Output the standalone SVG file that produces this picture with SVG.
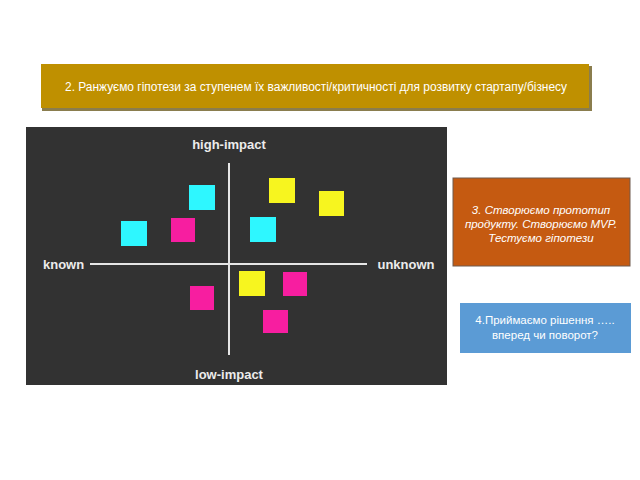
<svg xmlns="http://www.w3.org/2000/svg" width="640" height="480" viewBox="0 0 640 480">
<style>
.t{font-family:"Liberation Sans",Arial,sans-serif;fill:#ffffff}
.ax{font-family:"Liberation Sans",Arial,sans-serif;font-weight:bold;fill:#ececec;font-size:13px}
.cy{fill:#2ef7ff}.mg{fill:#f71ea0}.ye{fill:#f7f51f}
</style>
<rect width="640" height="480" fill="#ffffff"/>
<g id="banner">
<rect x="42" y="66" width="550" height="45" fill="#8a7d4e"/>
<rect x="41" y="64" width="548" height="44" fill="#bf9000"/>
<text class="t" x="316" y="91" font-size="12" text-anchor="middle" fill="#fff8e0" textLength="502" lengthAdjust="spacingAndGlyphs">2. Ранжуємо гіпотези за ступенем їх важливості/критичності для розвитку стартапу/бізнесу</text>
</g>
<g id="matrix">
<rect x="26" y="127" width="421" height="258" fill="#323232"/>
<line x1="229" y1="163" x2="229" y2="355" stroke="#e6e6e6" stroke-width="2"/>
<line x1="90" y1="264" x2="367" y2="264" stroke="#e6e6e6" stroke-width="2"/>
<text class="ax" x="229" y="149" text-anchor="middle">high-impact</text>
<text class="ax" x="229" y="379" text-anchor="middle">low-impact</text>
<text class="ax" x="43" y="269">known</text>
<text class="ax" x="406" y="269" text-anchor="middle">unknown</text>
<rect class="cy" x="189" y="185" width="26" height="25"/>
<rect class="cy" x="121" y="221" width="26" height="25"/>
<rect class="mg" x="171" y="218" width="24" height="24"/>
<rect class="ye" x="269" y="178" width="26" height="25"/>
<rect class="ye" x="319" y="191" width="25" height="25"/>
<rect class="cy" x="250" y="217" width="26" height="25"/>
<rect class="ye" x="239" y="271" width="26" height="25"/>
<rect class="mg" x="283" y="272" width="24" height="24"/>
<rect class="mg" x="190" y="286" width="24" height="24"/>
<rect class="mg" x="263" y="310" width="25" height="23"/>
</g>
<g id="prototype">
<rect x="453" y="178" width="177" height="88" fill="#c55a11" stroke="#6e5a4e" stroke-width="1"/>
<text class="t" font-size="11.5" font-style="italic" text-anchor="middle"><tspan x="541" y="214">3. Створюємо прототип</tspan><tspan x="541" y="228">продукту. Створюємо MVP.</tspan><tspan x="541" y="242">Тестуємо гіпотези</tspan></text>
</g>
<g id="decision">
<rect x="460" y="303" width="171" height="50" fill="#5b9bd5"/>
<text class="t" font-size="11.5" text-anchor="middle"><tspan x="545" y="324">4.Приймаємо рішення …..</tspan><tspan x="545" y="339">вперед чи поворот?</tspan></text>
</g>
<g id="connectors"></g>
</svg>
